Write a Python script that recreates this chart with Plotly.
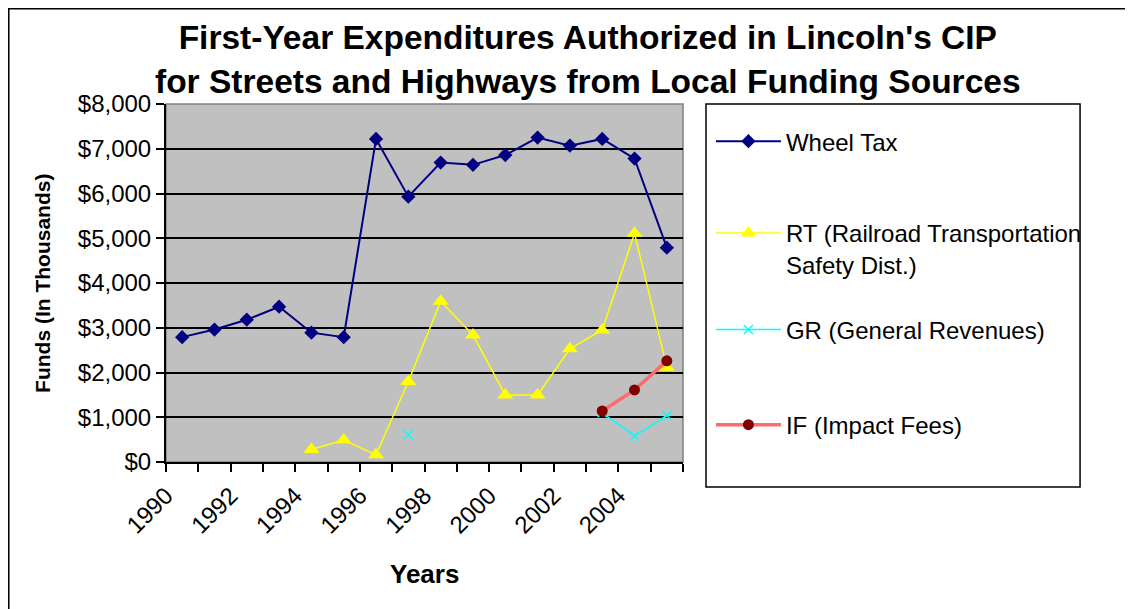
import plotly.graph_objects as go

# values in thousands of dollars
years = list(range(1990, 2006))
wheel_tax = [2790, 2960, 3180, 3470, 2890, 2790, 7220, 5930, 6690, 6640, 6860, 7250, 7070, 7220, 6780, 4790]
rt_safety = [None, None, None, None, 280, 490, 160, 1800, 3590, 2840, 1500, 1500, 2530, 2950, 5110, 2120]
gen_revenue = [None, None, None, None, None, None, None, 610, None, None, None, None, None, 1100, 580, 1040]
impact_fees = [None, None, None, None, None, None, None, None, None, None, None, None, None, 1140, 1610, 2260]

year_labels = [str(y) for y in range(1990, 2005, 2)]
y_ticks = list(range(0, 8001, 1000))
y_labels = ["${:,}".format(v) for v in y_ticks]

FONT = "Arial, Liberation Sans, sans-serif"

fig = go.Figure()
fig.add_scatter(x=years, y=wheel_tax, name="Wheel Tax", mode="lines+markers",
                line=dict(color="#000080", width=2),
                marker=dict(symbol="diamond", size=11, color="#000080"),
                legend="legend")
fig.add_scatter(x=years, y=rt_safety, name="RT (Railroad Transportation<br>Safety Dist.)",
                mode="lines+markers", line=dict(color="#FFFF00", width=1.5),
                marker=dict(symbol="triangle-up", size=14, color="#FFFF00"),
                legend="legend2")
fig.add_scatter(x=years, y=gen_revenue, name="GR (General Revenues)", mode="lines+markers",
                line=dict(color="#00FFFF", width=1.5),
                marker=dict(symbol="x-thin", size=9, line=dict(color="#00FFFF", width=1.5)),
                legend="legend3")
fig.add_scatter(x=years, y=impact_fees, name="IF (Impact Fees)", mode="lines+markers",
                line=dict(color="#FF6A6A", width=3.5),
                marker=dict(symbol="circle", size=11, color="#800000"),
                legend="legend4")

leg = dict(xanchor="left", yanchor="middle", bgcolor="rgba(0,0,0,0)",
           font=dict(family=FONT, size=24, color="black"), itemwidth=65, valign="top")

# category boundaries; the rotated year labels hang off the left boundary of their category
bounds = [y - 0.5 for y in years] + [years[-1] + 0.5]

# the page body adds an 8px offset, so margins are shifted by that much
fig.update_layout(
    width=1133, height=609,
    margin=dict(l=158, r=458, t=96, b=155),
    paper_bgcolor="white", plot_bgcolor="#C0C0C0",
    font=dict(family=FONT, color="black"),
    showlegend=True,
    legend=dict(leg, x=1.054, y=0.895),
    legend2=dict(leg, x=1.054, y=0.595),
    legend3=dict(leg, x=1.054, y=0.369),
    legend4=dict(leg, x=1.054, y=0.103),
    xaxis=dict(range=[1989.5, 2005.5], tickmode="array",
               tickvals=[int(s) - 0.5 for s in year_labels], ticktext=year_labels,
               tickangle=-45, ticks="outside", ticklen=8, tickcolor="black", tickwidth=1.5,
               showgrid=False, zeroline=False,
               showline=True, linecolor="black", linewidth=2,
               tickfont=dict(family=FONT, size=24),
               minor=dict(tickmode="array", tickvals=bounds,
                          ticks="outside", ticklen=8, tickcolor="black", tickwidth=1.5, showgrid=False)),
    yaxis=dict(range=[0, 8000], tickmode="array", tickvals=y_ticks, ticktext=y_labels,
               ticks="outside", ticklen=8, tickcolor="black", tickwidth=1.5,
               showgrid=True, gridcolor="black", gridwidth=1.5, zeroline=False,
               showline=True, linecolor="black", linewidth=2,
               tickfont=dict(family=FONT, size=24)),
    annotations=[
        dict(text="<b>First-Year Expenditures Authorized in Lincoln's CIP<br>"
                  "for Streets and Highways from Local Funding Sources</b>",
             xref="paper", yref="paper", x=0.816, y=1.123, xanchor="center", yanchor="middle",
             showarrow=False, font=dict(family=FONT, size=33.5, color="black")),
        dict(text="<b>Years</b>", xref="paper", yref="paper", x=0.5, y=-0.313,
             xanchor="center", yanchor="middle", showarrow=False,
             font=dict(family=FONT, size=26, color="black")),
        dict(text="<b>Funds (In Thousands)</b>", xref="paper", yref="paper", x=-0.24, y=0.5,
             xanchor="center", yanchor="middle", textangle=-90, showarrow=False,
             font=dict(family=FONT, size=21, color="black")),
    ],
    shapes=[
        # plot area frame
        dict(type="rect", xref="paper", yref="paper", x0=0, x1=1, y0=0, y1=1,
             line=dict(color="#808080", width=1.5), layer="below"),
        # legend box
        dict(type="rect", xref="paper", yref="paper", x0=1.0445, x1=1.768, y0=-0.0698, y1=1.0,
             line=dict(color="black", width=1.5)),
        # chart area border
        dict(type="rect", xref="paper", yref="paper", x0=-0.3046, x1=1.9, y0=-0.5, y1=1.2668,
             line=dict(color="black", width=2)),
    ],
)

fig.write_html("out.html")
